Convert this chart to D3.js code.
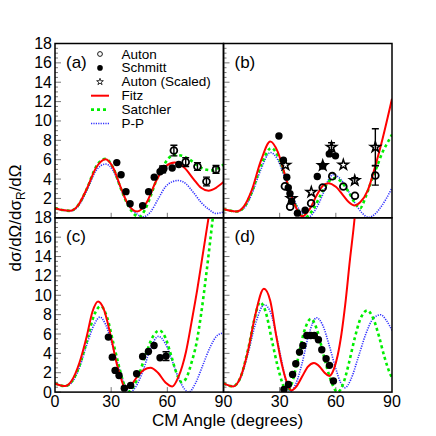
<!DOCTYPE html>
<html>
<head>
<meta charset="utf-8">
<script src="https://cdn.jsdelivr.net/npm/d3@7"></script>
<style>
  body { margin: 0; background: #fff; }
  text { font-family: "Liberation Sans", Arial, sans-serif; fill: #000; }
</style>
</head>
<body>
<svg id="chart" width="436" height="436"></svg>
<script>
// ---- data: [angle (deg), ratio] ----
// panel (a)
const fitzA = [[0,1.0],[4,0.8],[8,0.72],[12,1.2],[17,3.0],[22,5.2],[27,6.05],[31,5.2],[35,3.2],[39,1.4],[44,0.65],[49,1.6],[54,3.8],[59,5.3],[64,5.7],[69,5.2],[74,4.0],[78,3.1],[82,2.8],[86,3.1],[90,3.7]];
const satchA = [[0,1.0],[4,0.8],[8,0.72],[12,1.2],[17,3.0],[22,5.3],[27,6.1],[31,5.2],[35,3.1],[39,1.3],[45,0.1],[48,0.8],[51,2.2],[54,3.8],[57,5.0],[60,6.0],[64,6.5],[68,6.4],[72,6.0],[76,5.4],[80,5.0],[84,4.9],[87,5.1],[90,5.5]];
const ppA = [[0,1.0],[4,0.8],[8,0.7],[12,1.1],[17,2.8],[22,4.9],[27,5.55],[31,4.9],[35,3.1],[39,1.4],[43,0.5],[47,0.1],[51,0.6],[55,1.9],[59,3.2],[63,3.75],[66,3.85],[70,3.5],[74,2.6],[78,1.6],[82,0.9],[86,0.45],[90,0.6]];
const autonA = [[57.5,5.0,0.35],[63.5,6.95,0.55],[69.8,5.75,0.45],[76.1,5.3,0.4],[80.9,3.75,0.45],[86,5.0,0.4]];
const schmittA = [[33,5.7],[35.3,4.45],[37.9,2.7],[40.1,1.45],[46.8,1.25],[50,2.7],[53,4.2],[56.1,4.75],[58.2,5.1],[62.6,5.15],[66.1,5.5]];

// panel (b)
const fitzB = [[0,0.9],[3,0.75],[7,0.65],[11,1.2],[15,2.8],[20,5.9],[25,7.88],[29,6.8],[33,4.3],[37,1.9],[42,0.15],[46,0.9],[50,2.4],[53,3.3],[56,3.58],[60,3.2],[64,2.3],[67,1.6],[70,1.27],[73,1.6],[77,2.8],[81,5.3],[85,8.2],[90,12.3]];
const satchB = [[0,0.9],[3,0.75],[7,0.65],[11,1.1],[15,2.6],[20,5.4],[25.5,7.2],[30,6.0],[34,3.6],[38,1.5],[43.5,0.05],[48,0.9],[52,2.4],[56,3.7],[59.5,4.1],[63,3.7],[67,2.6],[70,1.6],[73,1.0],[76,2.2],[79,3.8],[82,5.3],[85,6.8],[88,7.9],[90,8.6]];
const ppB = [[0,0.9],[3,0.75],[7,0.65],[11,1.0],[15,2.4],[20,5.0],[25,6.74],[29,6.0],[33,4.0],[37,2.1],[41,0.7],[45,0.05],[49,0.8],[53,2.4],[56,3.9],[58.5,4.45],[62,4.1],[66,3.0],[70,1.6],[74,0.5],[77.5,0.05],[81,0.4],[84,1.1],[87,2.0],[90,3.1]];
const autonB = [[32.8,3.25,0],[35.6,1.15,0],[46.8,1.5,0],[53,3.13,0],[58.1,4.3,0],[64,3.23,0],[70.2,2.27,0],[81.1,4.37,1.0]];
const schmittB = [[29.6,8.45],[32,5.95],[33.8,4.2],[34.6,3.1],[35.5,2.5],[36.4,1.7],[39.5,0.48],[43.6,0.78],[50.1,4.26],[53,5.35],[56.5,6.6],[59.8,6.4]];
const scaledB = [[33.1,5.45,0],[36.3,2.0,0],[46.9,2.65,0],[53,5.4,0],[57.7,7.3,0.45],[64,5.47,0],[70.1,3.85,0.3],[81.1,7.3,1.9]];

// panel (c)
const fitzC = [[0,0.9],[5.3,0.62],[9,1.2],[13,3.0],[17,5.8],[20,8.3],[23,9.36],[26,8.6],[30,5.6],[33,2.9],[35,1.6],[37.5,0.35],[40,0.6],[44,1.6],[47.5,2.3],[51,2.52],[55,2.0],[59,1.0],[62.7,0.59],[66,1.6],[68,2.7],[70,4.2],[73,7.3],[76,10.6],[79,14.3],[82,18.0],[84,20.5]];
const satchC = [[0,0.9],[5.3,0.62],[9,1.1],[13,2.7],[17,5.3],[21,8.0],[24.4,8.88],[28,7.6],[31,5.2],[34,2.8],[36.5,1.0],[38.8,0.0],[42,0.6],[45,1.9],[49,4.2],[52.5,5.8],[55.7,6.37],[59,5.6],[62,3.8],[65,1.9],[67.7,1.03],[70,1.4],[73,3.1],[75.5,5.0],[78,8.0],[81,12.5],[84,17.5],[86,21]];
const ppC = [[0,0.9],[5.3,0.62],[9,1.0],[13,2.5],[17,4.9],[21,7.0],[24,7.74],[27,7.0],[31,4.6],[34,2.6],[37,0.9],[40,0.0],[43,0.5],[47,2.2],[51,4.5],[55.2,5.75],[59,5.0],[63,3.0],[67,1.0],[71.5,0.0],[75,0.9],[79,2.8],[83,4.7],[87,5.9],[90,6.1]];
const schmittC = [[28.5,5.68],[30.6,3.61],[32.1,2.24],[34.2,1.72],[37,0.41],[40.4,0.69],[43.6,1.9],[46.8,3.68],[49.9,4.2],[52.9,4.82],[56.1,3.55],[59.3,3.72,0.45]];

// panel (d)
const fitzD = [[0,0.9],[5.2,0.59],[9,1.5],[13,4.2],[17,8.0],[21.6,10.67],[25,9.4],[28,6.0],[31,3.0],[33.5,1.2],[36.1,0.18],[39,0.6],[42,1.6],[45,2.6],[48.3,3.0],[51.5,2.6],[54,2.0],[56.5,1.66],[59,2.4],[61,3.8],[63,6.0],[65,9.0],[67.5,13.6],[70,17.9],[71,20]];
const satchD = [[0,0.9],[5,0.6],[9,1.5],[13,4.3],[16.5,7.5],[19.5,9.29],[22.5,8.3],[26,5.2],[29,2.6],[31.5,0.9],[33.7,0.0],[36.5,0.9],[39.5,3.2],[43,6.2],[46.7,7.57],[50,6.4],[53.5,3.8],[57,1.4],[61,0.0],[64,0.9],[67,3.0],[70,5.5],[73,7.5],[76.8,8.43],[80,7.6],[83,5.8],[86,3.6],[89.4,1.72],[90,1.5]];
const ppD = [[0,0.9],[5,0.6],[9,1.4],[13,3.9],[17,7.0],[21.8,9.02],[25,8.3],[28.5,5.6],[31.5,2.8],[33.5,1.0],[35.6,0.05],[38.5,0.8],[42,3.0],[45.5,5.9],[49.7,7.68],[53,6.9],[56.5,4.8],[60,2.4],[62.5,1.0],[64.9,0.45],[68,1.3],[72,3.6],[76,6.0],[80,7.6],[84,7.99],[87,7.4],[90,6.37]];
const schmittD = [[32.3,0.28],[34.7,0.79],[36.9,1.83],[38.6,2.93],[40.6,4.13],[42.4,4.82],[44.5,5.85],[46.6,5.85],[48.5,5.85],[50.7,5.4],[52.5,4.37],[54.8,3.44],[56.6,2.76],[58.7,1.14]];

const legendNames = ["Auton", "Schmitt", "Auton (Scaled)", "Fitz", "Satchler", "P-P"];
const yTicks = [0, 2, 4, 6, 8, 10, 12, 14, 16, 18];
const xTicks = [0, 30, 60, 90];

const panels = [
  {label: "(a)", col: 0, row: 0, fitz: fitzA, satch: satchA, pp: ppA, auton: autonA, schmitt: schmittA, scaled: []},
  {label: "(b)", col: 1, row: 0, fitz: fitzB, satch: satchB, pp: ppB, auton: autonB, schmitt: schmittB, scaled: scaledB},
  {label: "(c)", col: 0, row: 1, fitz: fitzC, satch: satchC, pp: ppC, auton: [], schmitt: schmittC, scaled: []},
  {label: "(d)", col: 1, row: 1, fitz: fitzD, satch: satchD, pp: ppD, auton: [], schmitt: schmittD, scaled: []}
];

// figure geometry
const padLeft = 55, padTop = 43.5, pw = 168.5, ph = 174.3;
const red = "#ff0000", green = "#00ee00", blue = "#3030ff";

const svg = d3.select("#chart");

const styles = {
  fitz:  {color: red,   width: 2,   dash: null},
  satch: {color: green, width: 2.6, dash: "3,3"},
  pp:    {color: blue,  width: 1.6, dash: "1.2,1.2"}
};

panels.forEach(function(p, i) {
  const x0 = padLeft + p.col * pw, y0 = padTop + p.row * ph;
  const x = d3.scaleLinear().domain([0, 90]).range([x0, x0 + pw]);
  const y = d3.scaleLinear().domain([0, 18]).range([y0 + ph, y0]);

  svg.append("clipPath").attr("id", "clip" + i)
    .append("rect").attr("x", x0).attr("y", y0).attr("width", pw).attr("height", ph);

  // minor / major ticks on the left inner edge
  const g = svg.append("g");
  d3.range(0, 18.01, 0.5).forEach(function(v) {
    const major = Math.abs(v % 2) < 1e-6;
    g.append("line")
      .attr("x1", x0).attr("x2", x0 + (major ? 6 : 3))
      .attr("y1", y(v)).attr("y2", y(v))
      .attr("stroke", "#555").attr("stroke-width", 0.8);
  });
  [30, 60].forEach(function(v) {
    g.append("line")
      .attr("x1", x(v)).attr("x2", x(v))
      .attr("y1", y0 + ph).attr("y2", y0 + ph - 5)
      .attr("stroke", "#555").attr("stroke-width", 0.8);
  });

  const line = d3.line()
    .x(d => x(d[0])).y(d => y(d[1]))
    .curve(d3.curveMonotoneX);

  const cg = svg.append("g").attr("clip-path", "url(#clip" + i + ")");
  ["pp", "satch", "fitz"].forEach(function(k) {
    cg.append("path")
      .datum(p[k])
      .attr("d", line)
      .attr("fill", "none")
      .attr("stroke", styles[k].color)
      .attr("stroke-width", styles[k].width)
      .attr("stroke-dasharray", styles[k].dash);
  });

  // error bars
  const withErr = p.auton.concat(p.schmitt, p.scaled).filter(d => d[2]);
  withErr.forEach(function(d) {
    cg.append("line").attr("x1", x(d[0])).attr("x2", x(d[0]))
      .attr("y1", y(d[1] - d[2])).attr("y2", y(d[1] + d[2]))
      .attr("stroke", "#000").attr("stroke-width", 1.4);
    [d[1] - d[2], d[1] + d[2]].forEach(function(v) {
      cg.append("line").attr("x1", x(d[0]) - 3.5).attr("x2", x(d[0]) + 3.5)
        .attr("y1", y(v)).attr("y2", y(v))
        .attr("stroke", "#000").attr("stroke-width", 1.4);
    });
  });

  cg.selectAll(null).data(p.schmitt).enter().append("circle")
    .attr("cx", d => x(d[0])).attr("cy", d => y(d[1]))
    .attr("r", 3.7).attr("fill", "#000");
  cg.selectAll(null).data(p.auton).enter().append("circle")
    .attr("cx", d => x(d[0])).attr("cy", d => y(d[1]))
    .attr("r", 3.4).attr("fill", "none").attr("stroke", "#000").attr("stroke-width", 1.8);
  const star = d3.symbol().type(d3.symbolStar).size(32);
  cg.selectAll(null).data(p.scaled).enter().append("path")
    .attr("d", star)
    .attr("transform", d => "translate(" + x(d[0]) + "," + y(d[1]) + ")")
    .attr("fill", "none").attr("stroke", "#000").attr("stroke-width", 1.5);

  // frame
  svg.append("rect").attr("x", x0).attr("y", y0).attr("width", pw).attr("height", ph)
    .attr("fill", "none").attr("stroke", "#000").attr("stroke-width", 1.5);

  svg.append("text").attr("x", x0 + 11).attr("y", y0 + 24)
    .style("font-size", "17px").text(p.label);

  // tick labels on the left column and bottom row
  if (p.col === 0) {
    yTicks.filter(v => p.row === 1 || v > 0).forEach(function(v) {
      svg.append("text").attr("x", x0 - 3).attr("y", y(v) + 5.5)
        .attr("text-anchor", "end").style("font-size", "16px").text(v);
    });
  }
  if (p.row === 1) {
    xTicks.filter(v => p.col === 0 || v > 0).forEach(function(v) {
      svg.append("text").attr("x", x(v)).attr("y", y0 + ph + 15)
        .attr("text-anchor", "middle").style("font-size", "16px").text(v);
    });
  }
});

// legend in panel (a)
const lg = svg.append("g");
const lx = 100, ly = 54, dy = 13.9;
legendNames.forEach(function(name, i) {
  const yy = ly + i * dy;
  lg.append("text").attr("x", 121.5).attr("y", yy + 4.5)
    .style("font-size", "13.5px").text(name);
  if (i === 0) {
    lg.append("circle").attr("cx", lx).attr("cy", yy).attr("r", 2.4)
      .attr("fill", "none").attr("stroke", "#000").attr("stroke-width", 0.9);
  } else if (i === 1) {
    lg.append("circle").attr("cx", lx).attr("cy", yy).attr("r", 2.8).attr("fill", "#000");
  } else if (i === 2) {
    lg.append("path").attr("d", d3.symbol().type(d3.symbolStar).size(14))
      .attr("transform", "translate(" + lx + "," + yy + ")")
      .attr("fill", "none").attr("stroke", "#000").attr("stroke-width", 0.8);
  } else {
    const s = styles[["fitz", "satch", "pp"][i - 3]];
    lg.append("line").attr("x1", 91).attr("x2", 109).attr("y1", yy).attr("y2", yy)
      .attr("stroke", s.color).attr("stroke-width", s.width).attr("stroke-dasharray", s.dash);
  }
});

// axis titles
svg.append("text").attr("x", 227.5).attr("y", 426)
  .attr("text-anchor", "middle").style("font-size", "17px").text("CM Angle (degrees)");

const yt = svg.append("text")
  .attr("transform", "translate(21,218) rotate(-90)")
  .attr("text-anchor", "middle").style("font-size", "17px");
yt.append("tspan").text("dσ/dΩ/dσ");
yt.append("tspan").attr("dy", 4).style("font-size", "12px").text("R");
yt.append("tspan").attr("dy", -4).text("/dΩ");
</script>
</body>
</html>
